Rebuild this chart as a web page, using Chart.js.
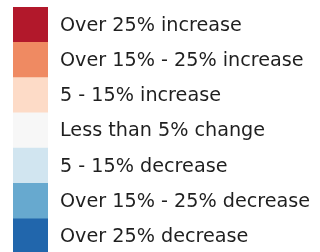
<!DOCTYPE html>
<html>
<head>
<meta charset="utf-8">
<script src="https://cdn.jsdelivr.net/npm/chart.js@4/dist/chart.umd.min.js"></script>
<style>
html,body{margin:0;padding:0;background:#fff;overflow:hidden;}
#wrap{width:320px;height:252px;overflow:hidden;}
canvas{display:block;}
</style>
</head>
<body>
<div id="wrap"><canvas id="c" width="320" height="262"></canvas></div>
<script>
const categories = [
  "Over 25% increase",
  "Over 15% - 25% increase",
  "5 - 15% increase",
  "Less than 5% change",
  "5 - 15% decrease",
  "Over 15% - 25% decrease",
  "Over 25% decrease"
];
const swatchValues = [1, 1, 1, 1, 1, 1, 1];
const swatchColors = ["#b2182b", "#ef8a62", "#fddbc7", "#f7f7f7", "#d1e5f0", "#67a9cf", "#2166ac"];

new Chart(document.getElementById('c'), {
  type: 'bar',
  data: {
    labels: categories,
    datasets: [{
      data: swatchValues,
      backgroundColor: swatchColors,
      borderWidth: 0,
      barPercentage: 1,
      categoryPercentage: 1
    }]
  },
  options: {
    indexAxis: 'y',
    responsive: false,
    animation: false,
    devicePixelRatio: 1,
    layout: { padding: { left: 13, right: 0, top: 7, bottom: 8 } },
    plugins: { legend: { display: false }, tooltip: { enabled: false } },
    scales: {
      x: { display: false, min: 0, max: 1 },
      y: {
        position: 'right',
        grid: { display: false, drawTicks: false },
        border: { display: false },
        ticks: {
          padding: 12,
          labelOffset: 1,
          color: '#1f1f1f',
          font: { family: 'DejaVu Sans', size: 19.2 }
        },
        afterFit: (axis) => {
          axis.width = 320 - 48;
          axis.paddingTop = 0;
          axis.paddingBottom = 0;
        }
      }
    }
  }
});
</script>
</body>
</html>
